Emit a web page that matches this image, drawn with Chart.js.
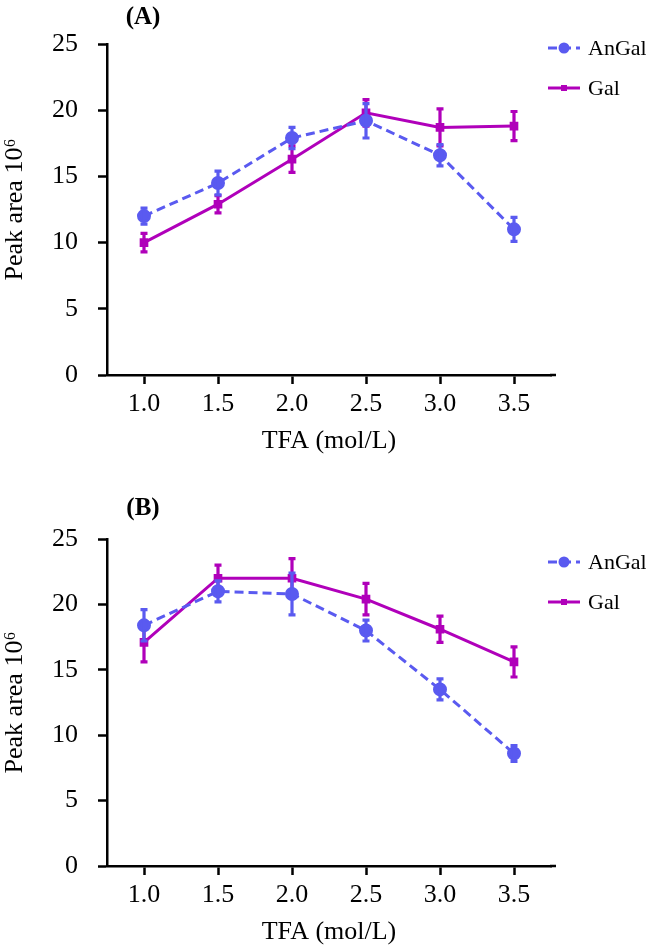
<!DOCTYPE html>
<html>
<head>
<meta charset="utf-8">
<script src="https://cdn.jsdelivr.net/npm/chart.js@4.4.0/dist/chart.umd.min.js"></script>
<style>
  html, body { margin: 0; padding: 0; background: #fff; overflow: hidden; }
  #wrap { position: relative; width: 646px; height: 952px; }
  .panel { position: absolute; left: 0; width: 646px; }
</style>
</head>
<body>
<div id="wrap">
  <div class="panel" style="top:0;height:491px"><canvas id="chartA" width="646" height="491"></canvas></div>
  <div class="panel" style="top:491px;height:461px"><canvas id="chartB" width="646" height="461"></canvas></div>
</div>
<script>
// TFA concentrations (x categories)
const tfaLabels = ['1.0', '1.5', '2.0', '2.5', '3.0', '3.5'];

// Panel A (peak area x10^6)
const angalA = [12.0, 14.5, 17.9, 19.2, 16.6, 11.0];
const angalAErr = [0.6, 0.9, 0.8, 1.3, 0.8, 0.9];
const galA = [10.0, 12.9, 16.3, 19.8, 18.7, 18.8];
const galAErr = [0.7, 0.65, 1.0, 1.0, 1.4, 1.1];

// Panel B
const angalB = [18.4, 21.0, 20.8, 18.0, 13.5, 8.6];
const angalBErr = [1.2, 0.8, 1.6, 0.8, 0.8, 0.6];
const galB = [17.1, 22.0, 22.0, 20.4, 18.1, 15.6];
const galBErr = [1.5, 1.0, 1.5, 1.2, 1.0, 1.15];

const seriesNames = ['AnGal', 'Gal'];
const BLUE = '#5a5af0';
const MAGENTA = '#b000ba';
const FONT = '"Liberation Serif", "Times New Roman", serif';

// error bars drawn right after each dataset
const errorBars = {
    id: 'errorBars',
    afterDatasetDraw(chart, args) {
        const ds = chart.data.datasets[args.index];
        if (!ds.errors) return;
        const ctx = chart.ctx;
        const y = chart.scales.y;
        ctx.save();
        ctx.strokeStyle = ds.borderColor;
        ctx.lineWidth = 3.2;
        ctx.setLineDash([]);
        args.meta.data.forEach((pt, i) => {
            const v = ds.data[i], e = ds.errors[i];
            const top = y.getPixelForValue(v + e);
            const bot = y.getPixelForValue(v - e);
            ctx.beginPath();
            ctx.moveTo(pt.x, top);
            ctx.lineTo(pt.x, bot);
            ctx.moveTo(pt.x - 3.5, top);
            ctx.lineTo(pt.x + 3.5, top);
            ctx.moveTo(pt.x - 3.5, bot);
            ctx.lineTo(pt.x + 3.5, bot);
            ctx.stroke();
        });
        ctx.restore();
    }
};

// panel letter + line/marker legend
const decorations = {
    id: 'decorations',
    afterDraw(chart, args, opts) {
        const ctx = chart.ctx;
        const area = chart.chartArea;
        ctx.save();
        // x axis line runs a little past the last category
        ctx.strokeStyle = '#000';
        ctx.lineWidth = 2.5;
        ctx.beginPath();
        ctx.moveTo(area.right - 1, area.bottom);
        ctx.lineTo(area.right + 5, area.bottom);
        ctx.stroke();

        ctx.fillStyle = '#000';
        ctx.font = 'bold 25px ' + FONT;
        ctx.textAlign = 'center';
        ctx.textBaseline = 'middle';
        ctx.fillText(opts.letter, area.left + 36, 18);

        ctx.font = '22px ' + FONT;
        ctx.textAlign = 'left';
        chart.data.datasets.forEach((ds, i) => {
            const yy = opts.legendY + i * opts.legendGap;
            const x0 = 548, x1 = 580;
            ctx.strokeStyle = ds.borderColor;
            ctx.lineWidth = 3;
            ctx.setLineDash(ds.borderDash || []);
            ctx.beginPath();
            ctx.moveTo(x0, yy);
            ctx.lineTo(x1, yy);
            ctx.stroke();
            ctx.setLineDash([]);
            ctx.fillStyle = ds.pointBackgroundColor;
            ctx.beginPath();
            if (ds.pointStyle === 'rect') {
                ctx.rect(564 - 3, yy - 3, 6, 6);
            } else {
                ctx.arc(564, yy, 5.5, 0, Math.PI * 2);
            }
            ctx.fill();
            ctx.fillStyle = '#000';
            ctx.fillText(ds.label, 588, yy + 1);
        });
        ctx.restore();
    }
};

function makePanel(canvasId, letter, angal, angalErr, gal, galErr, topPad, bottomPad, legendY) {
    return new Chart(document.getElementById(canvasId), {
        type: 'line',
        data: {
            labels: tfaLabels,
            datasets: [
                {
                    label: seriesNames[0],
                    data: angal,
                    errors: angalErr,
                    borderColor: BLUE,
                    backgroundColor: BLUE,
                    pointBackgroundColor: BLUE,
                    pointBorderColor: BLUE,
                    borderWidth: 3,
                    borderDash: [9, 5],
                    pointStyle: 'circle',
                    pointRadius: 5.5,
                    tension: 0,
                    fill: false
                },
                {
                    label: seriesNames[1],
                    data: gal,
                    errors: galErr,
                    borderColor: MAGENTA,
                    backgroundColor: MAGENTA,
                    pointBackgroundColor: MAGENTA,
                    pointBorderColor: MAGENTA,
                    borderWidth: 3,
                    pointStyle: 'rect',
                    pointRadius: 4,
                    tension: 0,
                    fill: false
                }
            ]
        },
        options: {
            responsive: false,
            animation: false,
            layout: { padding: { left: 0, right: 95, top: topPad, bottom: bottomPad } },
            plugins: {
                legend: { display: false },
                tooltip: { enabled: false },
                decorations: { letter: letter, legendY: legendY, legendGap: 40 }
            },
            scales: {
                x: {
                    offset: true,
                    grid: { offset: false, drawOnChartArea: false, drawTicks: true, tickLength: 9, tickWidth: 2.5, tickColor: '#000' },
                    border: { color: '#000', width: 2.5 },
                    ticks: { color: '#000', font: { family: FONT, size: 26 }, padding: 5, maxRotation: 0 },
                    title: { display: true, text: 'TFA (mol/L)', color: '#000', font: { family: FONT, size: 26 }, padding: { top: 4, bottom: 4 } },
                    afterFit(scale) { scale.height = 86; }
                },
                y: {
                    min: 0,
                    max: 25,
                    ticks: { stepSize: 5, color: '#000', font: { family: FONT, size: 26 }, padding: 20 },
                    grid: { drawOnChartArea: false, drawTicks: true, tickLength: 9, tickWidth: 2.5, tickColor: '#000' },
                    border: { color: '#000', width: 2.5 },
                    title: { display: true, text: 'Peak area 10\u2076', color: '#000', font: { family: FONT, size: 26 }, padding: { top: 0, bottom: 4 } },
                    afterFit(scale) { scale.width = 107; }
                }
            }
        },
        plugins: [errorBars, decorations]
    });
}

document.addEventListener('DOMContentLoaded', () => {
    makePanel('chartA', '(A)', angalA, angalAErr, galA, galAErr, 44, 30, 48);
    makePanel('chartB', '(B)', angalB, angalBErr, galB, galBErr, 48, 0, 71);
});
</script>
</body>
</html>
